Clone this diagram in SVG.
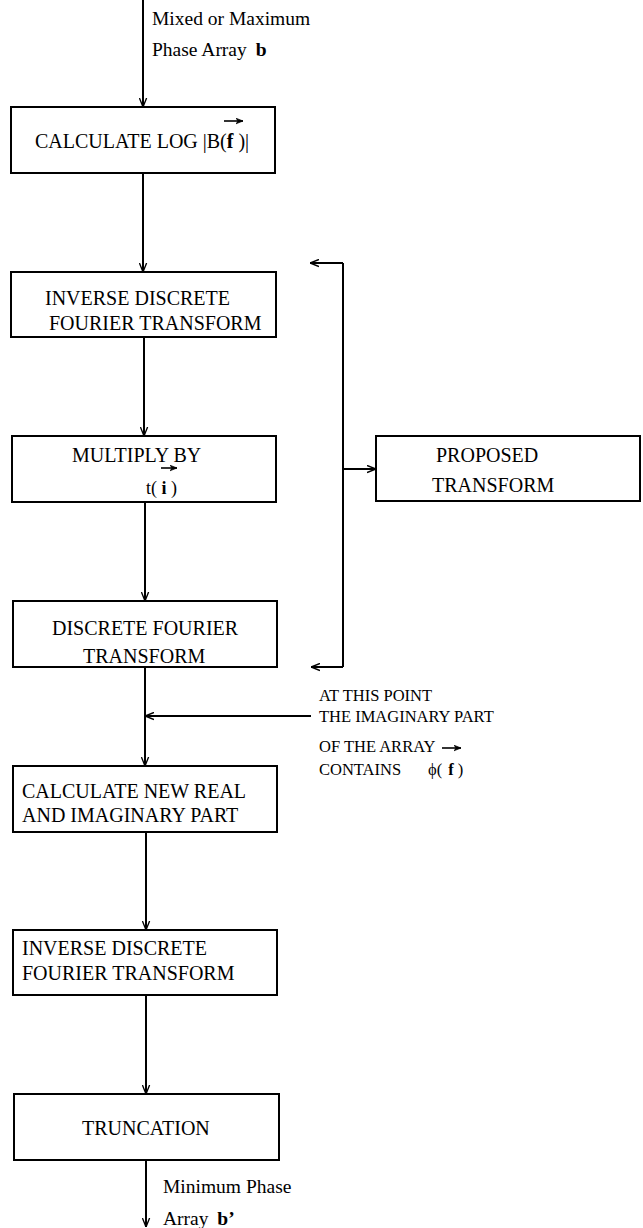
<svg xmlns="http://www.w3.org/2000/svg" width="643" height="1228" viewBox="0 0 643 1228">
<defs>
<marker id="ah" markerUnits="userSpaceOnUse" viewBox="0 0 10 10" markerWidth="9" markerHeight="9" refX="10" refY="5" orient="auto">
<path d="M0,1 L10,5 L0,9" fill="none" stroke="#000" stroke-width="1.5"/>
</marker>
<marker id="vec" markerUnits="userSpaceOnUse" viewBox="0 0 10 10" markerWidth="8" markerHeight="7" refX="10" refY="5" orient="auto">
<path d="M0,1 L10,5 L0,9 L3,5 Z" fill="#000" stroke="#000" stroke-width="1"/>
</marker>
</defs>
<style>
.box{fill:#fff;stroke:#000;stroke-width:2}
.ln{fill:none;stroke:#000;stroke-width:2}
.arr{fill:none;stroke:#000;stroke-width:2;marker-end:url(#ah)}
.v{fill:none;stroke:#000;stroke-width:1.6;marker-end:url(#vec)}
text{font-family:"Liberation Serif","Times New Roman",serif;font-size:20px;fill:#000}
.sm{font-size:16.5px}
.lb{font-size:19.5px}
.b{font-weight:bold}
</style>
<rect width="643" height="1228" fill="#fff"/>
<g id="connectors">
<line class="arr" x1="143" y1="0" x2="143" y2="107"/>
<line class="arr" x1="143" y1="173" x2="143" y2="272"/>
<line class="arr" x1="144" y1="337" x2="144" y2="436"/>
<line class="arr" x1="145" y1="502" x2="145" y2="601"/>
<line class="arr" x1="145" y1="667" x2="145" y2="766"/>
<line class="arr" x1="311" y1="716" x2="145" y2="716"/>
<line class="arr" x1="146" y1="832" x2="146" y2="930"/>
<line class="arr" x1="146" y1="995" x2="146" y2="1094"/>
<line class="arr" x1="146" y1="1160" x2="146" y2="1227"/>
<line class="ln" x1="343" y1="263" x2="343" y2="667"/>
<line class="arr" x1="343" y1="263" x2="310" y2="263"/>
<line class="arr" x1="343" y1="667" x2="311" y2="667"/>
<line class="arr" x1="343" y1="469" x2="376" y2="469"/>
</g>
<g id="input-label">
<text class="lb" x="152" y="25">Mixed or Maximum</text>
<text class="lb" x="152" y="56">Phase Array <tspan class="b" dx="4">b</tspan></text>
</g>
<g id="calc-log">
<rect class="box" x="11" y="107" width="264" height="66"/>
<text x="35" y="148">CALCULATE LOG |B(<tspan class="b">f</tspan> )|</text>
<line class="v" x1="224" y1="121" x2="243" y2="121"/>
</g>
<g id="idft1">
<rect class="box" x="11" y="272" width="265" height="65"/>
<text x="45" y="305">INVERSE DISCRETE</text>
<text x="49" y="330">FOURIER TRANSFORM</text>
</g>
<g id="multiply">
<rect class="box" x="12" y="436" width="264" height="66"/>
<text x="72" y="462">MULTIPLY BY</text>
<line class="v" x1="161" y1="468" x2="177" y2="468"/>
<text x="146" y="494" style="font-size:18px">t( <tspan class="b">i</tspan> )</text>
</g>
<g id="dft">
<rect class="box" x="13" y="601" width="264" height="66"/>
<text x="52" y="635">DISCRETE FOURIER</text>
<text x="83" y="663">TRANSFORM</text>
</g>
<g id="proposed">
<rect class="box" x="376" y="436" width="264" height="65"/>
<text x="436" y="462">PROPOSED</text>
<text x="432" y="492">TRANSFORM</text>
</g>
<g id="annotation">
<text class="sm" x="319" y="701">AT THIS POINT</text>
<text class="sm" x="319" y="722">THE IMAGINARY PART</text>
<text class="sm" x="319" y="752">OF THE ARRAY</text>
<line class="v" x1="442" y1="748" x2="461" y2="748"/>
<text class="sm" x="319" y="775">CONTAINS</text>
<text class="sm" x="428" y="775">ϕ(<tspan class="b" dx="6">f</tspan><tspan dx="4">)</tspan></text>
</g>
<g id="calc-new">
<rect class="box" x="13" y="766" width="264" height="66"/>
<text x="22" y="798">CALCULATE NEW REAL</text>
<text x="22" y="822">AND IMAGINARY PART</text>
</g>
<g id="idft2">
<rect class="box" x="13" y="930" width="264" height="65"/>
<text x="22" y="955">INVERSE DISCRETE</text>
<text x="22" y="980">FOURIER TRANSFORM</text>
</g>
<g id="truncation">
<rect class="box" x="14" y="1094" width="265" height="66"/>
<text x="82" y="1135">TRUNCATION</text>
</g>
<g id="output-label">
<text class="lb" x="163" y="1193">Minimum Phase</text>
<text class="lb" x="163" y="1225">Array <tspan class="b" dx="4">b’</tspan></text>
</g>
</svg>
